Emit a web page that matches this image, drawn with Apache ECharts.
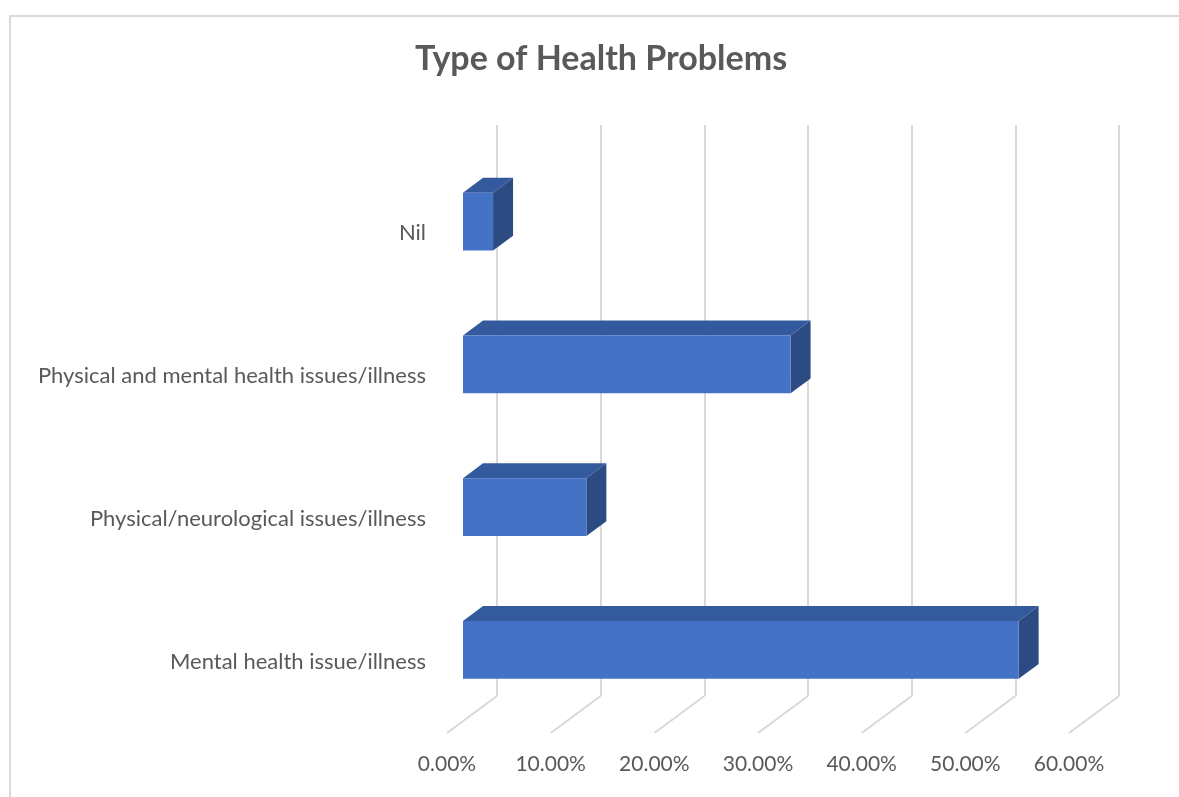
<!DOCTYPE html>
<html>
<head>
<meta charset="utf-8">
<title>Type of Health Problems</title>
<script src="https://cdn.jsdelivr.net/npm/echarts@6/dist/echarts.min.js"></script>
<style>
  html, body { margin: 0; padding: 0; background: #ffffff; }
  #chart { width: 1179px; height: 797px; }
</style>
</head>
<body>
<div id="chart"></div>
<script>
// Categories, bottom to top
const categories = [
  'Mental health issue/illness',
  'Physical/neurological issues/illness',
  'Physical and mental health issues/illness',
  'Nil'
];
// Share of respondents (%)
const shares = [53.6, 11.9, 31.6, 2.9];
// Value axis ticks
const tickValues = [0, 10, 20, 30, 40, 50, 60];
const tickLabels = ['0.00%', '10.00%', '20.00%', '30.00%', '40.00%', '50.00%', '60.00%'];

// Perspective: the depth vector runs from the back wall to the front edge of the floor
const DEPTH = [-50, 37];
const BAR_FRONT = 0.68;   // depth fraction of the bar's front face
const BAR_BACK = 0.28;    // depth fraction of the bar's back face
const BAR_RATIO = 0.405;  // bar thickness as a share of the category band

const TEXT = '#595959';
const GRID_LINE = '#d9d9d9';
const FONT = 'Lato, "Open Sans", sans-serif';

const chart = echarts.init(document.getElementById('chart'), null, { renderer: 'canvas' });

function off(p, t) {
  return [p[0] + DEPTH[0] * t, p[1] + DEPTH[1] * t];
}

function renderBar(params, api) {
  const idx = api.value(1);
  const val = api.value(0);
  const a = api.coord([0, idx]);
  const b = api.coord([val, idx]);
  const h = api.size([0, 1])[1] * BAR_RATIO;
  const tl = [a[0], a[1] - h / 2];
  const tr = [b[0], b[1] - h / 2];
  const br = [b[0], b[1] + h / 2];
  const bl = [a[0], a[1] + h / 2];
  const fTL = off(tl, BAR_FRONT), fTR = off(tr, BAR_FRONT), fBR = off(br, BAR_FRONT), fBL = off(bl, BAR_FRONT);
  const kTL = off(tl, BAR_BACK), kTR = off(tr, BAR_BACK), kBR = off(br, BAR_BACK);
  return {
    type: 'group',
    children: [
      { type: 'polygon', shape: { points: [fTL, fTR, kTR, kTL] }, style: { fill: '#335a9c' } },
      { type: 'polygon', shape: { points: [fTR, kTR, kBR, fBR] }, style: { fill: '#2b4b82' } },
      { type: 'polygon', shape: { points: [fTL, fTR, fBR, fBL] }, style: { fill: '#4472c4' } }
    ]
  };
}

function renderFloorLine(params, api) {
  const x = api.coord([api.value(0), 0])[0];
  const y = params.coordSys.y + params.coordSys.height;
  return {
    type: 'line',
    shape: { x1: x, y1: y, x2: x + DEPTH[0], y2: y + DEPTH[1] },
    style: { stroke: GRID_LINE, lineWidth: 2 }
  };
}

const option = {
  backgroundColor: '#ffffff',
  animation: false,
  textStyle: { fontFamily: FONT },
  graphic: [
    {
      type: 'rect',
      shape: { x: 10, y: 16, width: 1300, height: 900 },
      style: { fill: 'none', stroke: GRID_LINE, lineWidth: 2 },
      z: -10
    },
    {
      type: 'text',
      style: {
        text: 'Type of Health Problems',
        x: 601, y: 59,
        align: 'center', verticalAlign: 'middle',
        fontFamily: FONT,
        fontWeight: 'bold', fontSize: 34, fill: TEXT
      }
    }
  ],
  grid: [
    // back wall
    { left: 497, top: 125, width: 622, height: 571 },
    // front edge of the floor
    { left: 447, top: 162, width: 622, height: 571 }
  ],
  xAxis: [
    {
      gridIndex: 0, type: 'value', min: 0, max: 60, interval: 10,
      axisLine: { show: false }, axisTick: { show: false }, axisLabel: { show: false },
      splitLine: { show: true, lineStyle: { color: GRID_LINE, width: 2 } }
    },
    {
      gridIndex: 1, type: 'value', min: 0, max: 60, interval: 10,
      axisLine: { show: false }, axisTick: { show: false }, splitLine: { show: false },
      axisLabel: {
        show: true, margin: 21, color: TEXT, fontSize: 21, fontFamily: FONT,
        formatter: function (v) { return tickLabels[tickValues.indexOf(v)]; }
      }
    }
  ],
  yAxis: [
    {
      gridIndex: 0, type: 'category', data: categories,
      axisLine: { show: false }, axisTick: { show: false }, axisLabel: { show: false },
      splitLine: { show: false }
    },
    {
      gridIndex: 1, type: 'category', data: categories,
      axisLine: { show: false }, axisTick: { show: false }, splitLine: { show: false },
      axisLabel: {
        show: true, margin: 21, color: TEXT, fontSize: 22, fontFamily: FONT,
        padding: [6, 0, 0, 0]
      }
    }
  ],
  series: [
    {
      type: 'custom', name: 'floor',
      xAxisIndex: 0, yAxisIndex: 0,
      renderItem: renderFloorLine,
      data: tickValues.map(function (v) { return [v, 0]; }),
      silent: true, z: 1
    },
    {
      type: 'custom', name: 'Share',
      xAxisIndex: 0, yAxisIndex: 0,
      renderItem: renderBar,
      data: shares.map(function (v, i) { return [v, i]; }),
      z: 2
    }
  ]
};

chart.setOption(option);
</script>
</body>
</html>
